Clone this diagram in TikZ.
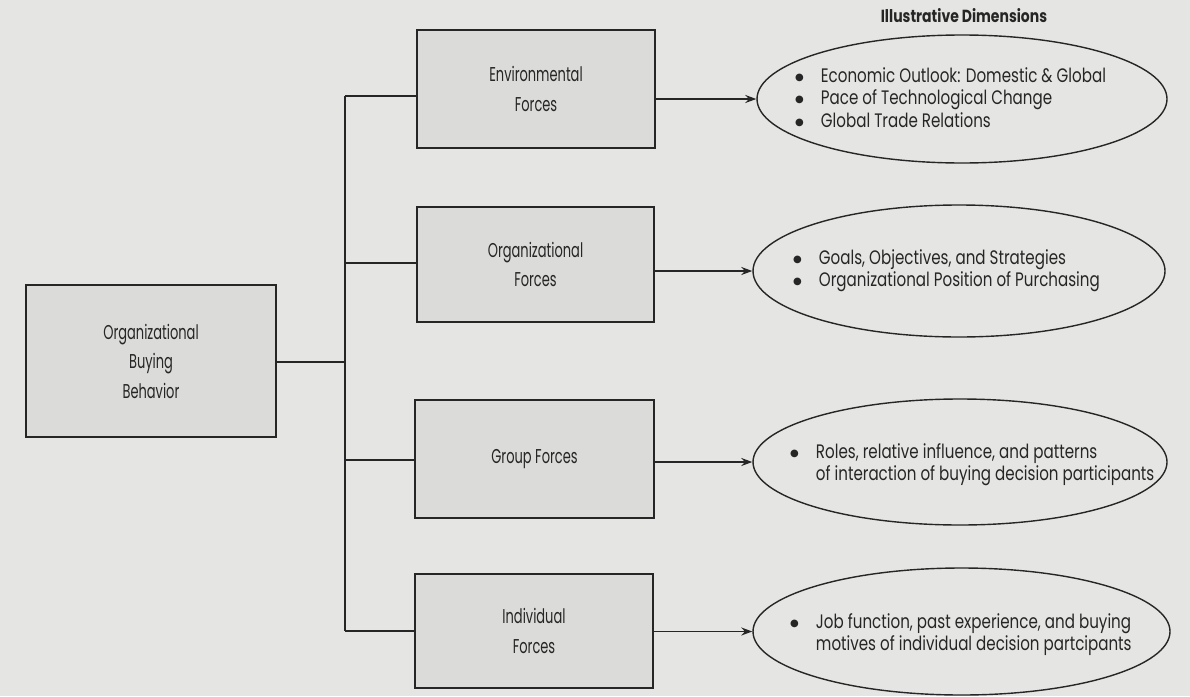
\documentclass[tikz,border=0pt]{standalone}
\usepackage{fontspec}
\setmainfont{Poppins}
\newfontfamily\condfont[FakeStretch=0.65]{Poppins}
\newfontfamily\ellfont[FakeStretch=0.775]{Poppins}
\newfontfamily\titlefont[FakeStretch=0.8]{Poppins}
\newfontfamily\symfont{DejaVu Sans}
\usetikzlibrary{shapes.geometric,arrows.meta}
\definecolor{paper}{RGB}{229,229,227}
\definecolor{boxfill}{RGB}{219,219,217}
\definecolor{ink}{RGB}{38,38,38}
\tikzset{
  forcebox/.style={draw=ink, line width=1.6pt, fill=boxfill, rectangle, inner sep=0pt,
    align=center, text=ink, font=\condfont\fontsize{20}{29.5}\selectfont},
  dimell/.style={draw=ink, line width=1.4pt, ellipse, inner sep=0pt},
  dimtext/.style={anchor=west, inner sep=0pt, text=ink, font=\ellfont\fontsize{19.5}{22.5}\selectfont},
  link/.style={draw=ink, line width=1.6pt},
  arr/.style={link, -{Stealth[length=11pt,width=8pt]}},
}
\newcommand{\bul}{\raisebox{2pt}{\symfont\fontsize{10}{10}\selectfont ●}}
\newenvironment{blist}{\begin{tabular}{@{}l@{\hspace{17pt}}l@{}}}{\end{tabular}}
\begin{document}
\begin{tikzpicture}[x=1pt,y=-1pt]
\path[fill=paper] (0,0) rectangle (1190,696);
\useasboundingbox (0,0) rectangle (1190,696);

% title
\node[text=ink, font=\titlefont\bfseries\fontsize{17.5}{20}\selectfont] (title) at (964,16) {Illustrative Dimensions};

% boxes
\node[forcebox, minimum width=250pt, minimum height=152pt] (obb) at (151,361) {Organizational\\Buying\\Behavior};
\node[forcebox, minimum width=238pt, minimum height=118pt] (env) at (536,89) {Environmental\\Forces};
\node[forcebox, minimum width=237pt, minimum height=115pt] (org) at (535.5,264.5) {Organizational\\Forces};
\node[forcebox, minimum width=239pt, minimum height=118pt] (grp) at (534.5,459) {Group Forces};
\node[forcebox, minimum width=238pt, minimum height=114pt] (ind) at (534,631) {Individual\\Forces};

% ellipses
\node[dimell, minimum width=410pt, minimum height=128pt] (e1) at (962,99) {};
\node[dimell, minimum width=412pt, minimum height=132pt] (e2) at (959,271) {};
\node[dimell, minimum width=414pt, minimum height=126pt] (e3) at (960,462) {};
\node[dimell, minimum width=417pt, minimum height=127pt] (e4) at (961.5,631.5) {};

\node[dimtext] (t1) at (795,100) {\begin{blist}
\bul & Economic Outlook: Domestic \& Global\\
\bul & Pace of Technological Change\\
\bul & Global Trade Relations
\end{blist}};
\node[dimtext] (t2) at (793,271) {\begin{blist}
\bul & Goals, Objectives, and Strategies\\
\bul & Organizational Position of Purchasing
\end{blist}};
\node[dimtext] (t3) at (790,465) {\begin{blist}
\bul & Roles, relative influence, and patterns\\
 & of interaction of buying decision participants
\end{blist}};
\node[dimtext] (t4) at (790,635) {\begin{blist}
\bul & Job function, past experience, and buying\\
 & motives of individual decision partcipants
\end{blist}};

% trunk
\coordinate (tE) at (345,96);
\coordinate (tO) at (345,263);
\coordinate (tM) at (345,362);
\coordinate (tG) at (345,460);
\coordinate (tI) at (345,631);
\draw[link] (tE) -- (tI);
\draw[link] (obb.east |- tM) -- (tM);
\draw[link] (tE) -- (tE -| env.west);
\draw[link] (tO) -- (tO -| org.west);
\draw[link] (tG) -- (tG -| grp.west);
\draw[link] (tI) -- (tI -| ind.west);

% arrows
\draw[arr] (env.east |- e1.west) -- (e1.west);
\draw[arr] (org.east |- e2.west) -- (e2.west);
\draw[arr] (grp.east |- e3.west) -- (e3.west);
\draw[arr] (ind.east |- e4.west) -- (e4.west);
\end{tikzpicture}
\end{document}
